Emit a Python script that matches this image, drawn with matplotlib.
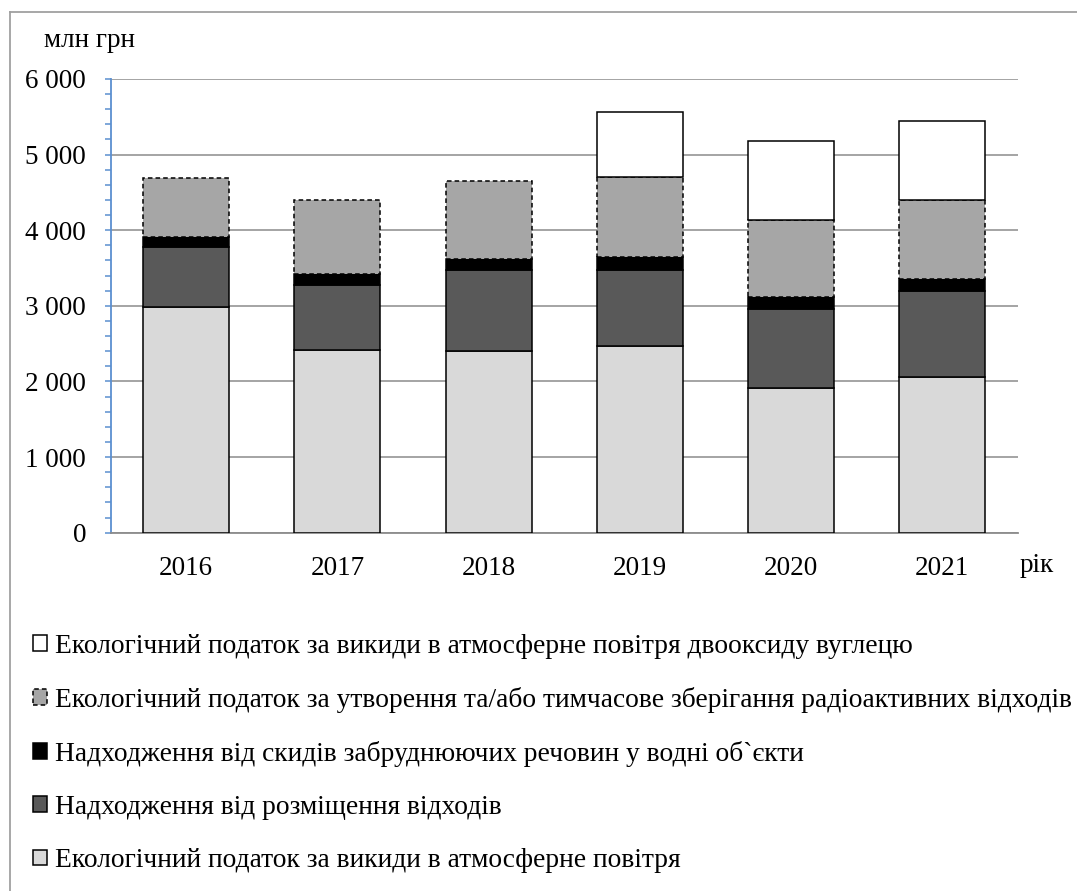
import matplotlib
matplotlib.use("Agg")
import matplotlib.pyplot as plt
from matplotlib.ticker import MultipleLocator, FuncFormatter
from matplotlib.lines import Line2D
from matplotlib.patches import Patch

years = ["2016", "2017", "2018", "2019", "2020", "2021"]
air = [2990, 2410, 2400, 2465, 1915, 2065]
waste = [785, 865, 1070, 1015, 1045, 1130]
water = [140, 140, 155, 160, 155, 160]
radio = [780, 980, 1030, 1070, 1015, 1040]
co2 = [0, 0, 0, 850, 1045, 1050]

labels = [
    "Екологічний податок за викиди в атмосферне повітря",
    "Надходження від розміщення відходів",
    "Надходження від скидів забруднюючих речовин у водні об`єкти",
    "Екологічний податок за утворення та/або тимчасове зберігання радіоактивних відходів",
    "Екологічний податок за викиди в атмосферне повітря двооксиду вуглецю",
]
series = [air, waste, water, radio, co2]
colors = ["#D9D9D9", "#595959", "#000000", "#A6A6A6", "#FFFFFF"]
styles = ["solid", "solid", "solid", (0, (3, 2)), "solid"]

FS = 19.5
LFS = 19.8
plt.rcParams["font.family"] = ["Liberation Serif", "DejaVu Serif"]
W, H = 1077, 891
fig = plt.figure(figsize=(W / 100, H / 100), dpi=100)
ax = fig.add_axes([110.5 / W, 1 - 532.7 / H, (1018 - 110.5) / W, (532.7 - 79) / H])

x = list(range(len(years)))
bottom = [0] * len(years)
handles = []
for vals, c, ls, lab in zip(series, colors, styles, labels):
    bars = ax.bar(x, vals, width=0.57, bottom=bottom, color=c, edgecolor="black",
                  linewidth=1.1, linestyle=ls, zorder=3)
    for b, v in zip(bars, vals):
        if v == 0:
            b.set_visible(False)
    handles.append(Patch(facecolor=c, edgecolor="black", linewidth=1.1, linestyle=ls, label=lab))
    bottom = [b + v for b, v in zip(bottom, vals)]

ax.set_xlim(-0.5, 5.5)
ax.set_ylim(0, 6000)
ax.set_xticks(x)
ax.set_xticklabels(years)
ax.yaxis.set_major_locator(MultipleLocator(1000))
ax.yaxis.set_minor_locator(MultipleLocator(200))
ax.yaxis.set_major_formatter(FuncFormatter(lambda v, p: f"{int(v):,}".replace(",", " ")))
ax.grid(axis="y", color="#8C8C8C", linewidth=1.1, zorder=0)
ax.set_axisbelow(True)
for s in ["top", "right"]:
    ax.spines[s].set_visible(False)
ax.spines["left"].set_color("#5B8FD0")
ax.spines["left"].set_linewidth(1.3)
ax.spines["bottom"].set_color("#8C8C8C")
ax.spines["bottom"].set_linewidth(1.3)
ax.tick_params(axis="y", which="both", direction="out", length=4.5, width=1.1,
               color="#5B8FD0", labelsize=FS, pad=13)
ax.tick_params(axis="x", length=0, labelsize=FS, pad=17)

fig.text(89 / W, 1 - 47 / H, "млн грн", ha="center", va="baseline", fontsize=FS)
fig.text(1037 / W, 1 - 565 / H, "рік", ha="center", va="center", fontsize=FS)

# outer frame
fig.add_artist(Line2D([9.5 / W, 9.5 / W], [0, 1 - 11.7 / H], color="#A0A0A0", linewidth=1.3,
                      transform=fig.transFigure))
fig.add_artist(Line2D([9.5 / W, 1.0], [1 - 11.7 / H, 1 - 11.7 / H], color="#A0A0A0", linewidth=1.3,
                      transform=fig.transFigure))

fig.legend(handles[::-1], labels[::-1], loc="upper left", bbox_to_anchor=(33 / W, 1 - 634 / H),
           frameon=False, fontsize=LFS, handlelength=0.51, handleheight=0.51,
           handletextpad=0.3, labelspacing=1.02, borderpad=0, borderaxespad=0)

fig.savefig("out.png", dpi=100)
